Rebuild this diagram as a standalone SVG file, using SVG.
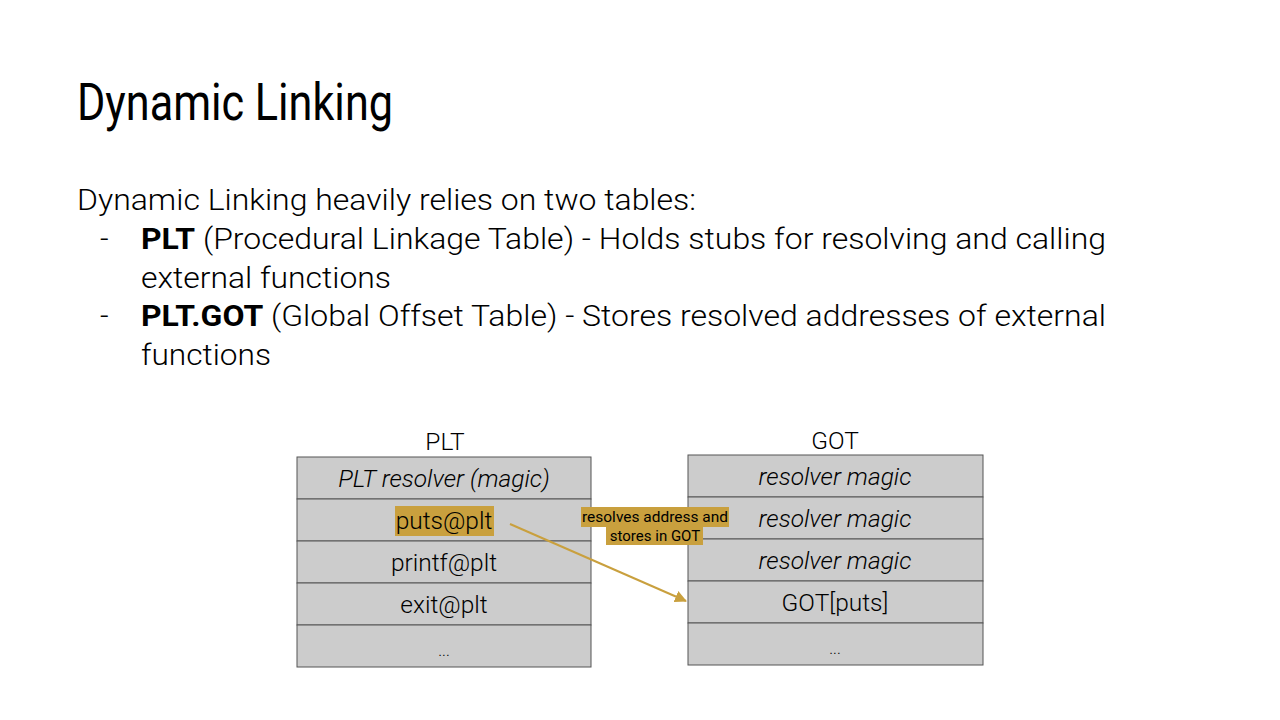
<svg xmlns="http://www.w3.org/2000/svg" width="1280" height="720" viewBox="0 0 1280 720">
<style>
text{font-family:Roboto,"Liberation Sans",sans-serif;fill:#000}
.body{font-size:30px;font-weight:300}
.cell{fill:#cccccc;stroke:#555;stroke-width:1}
.ct{font-size:24.5px;font-weight:300;text-anchor:middle}
.it{font-style:italic}
</style>
<defs><marker id="ah" markerWidth="12" markerHeight="12" refX="11" refY="6" orient="auto" markerUnits="userSpaceOnUse"><path d="M0,0 L12,6 L0,12 z" fill="#c9a03e"/></marker></defs>
<rect width="1280" height="720" fill="#fff"/>
<text x="77" y="120" textLength="316" lengthAdjust="spacingAndGlyphs" style="font-size:52px;font-weight:400">Dynamic Linking</text>
<text class="body" x="77" y="210" textLength="619" lengthAdjust="spacingAndGlyphs">Dynamic Linking heavily relies on two tables:</text>
<text class="body" x="100" y="249">-</text>
<text class="body" x="141" y="249" textLength="965" lengthAdjust="spacingAndGlyphs"><tspan font-weight="700">PLT</tspan> (Procedural Linkage Table) - Holds stubs for resolving and calling</text>
<text class="body" x="141" y="288" textLength="250" lengthAdjust="spacingAndGlyphs">external functions</text>
<text class="body" x="100" y="326">-</text>
<text class="body" x="141" y="326" textLength="965" lengthAdjust="spacingAndGlyphs"><tspan font-weight="700">PLT.GOT</tspan> (Global Offset Table) - Stores resolved addresses of external</text>
<text class="body" x="141" y="365" textLength="130" lengthAdjust="spacingAndGlyphs">functions</text>
<g id="plt">
<text class="ct" x="445" y="450">PLT</text>
<rect class="cell" x="297" y="457" width="294" height="42"/>
<rect class="cell" x="297" y="499" width="294" height="42"/>
<rect class="cell" x="297" y="541" width="294" height="42"/>
<rect class="cell" x="297" y="583" width="294" height="42"/>
<rect class="cell" x="297" y="625" width="294" height="42"/>
<text class="ct it" x="444" y="487">PLT resolver (magic)</text>
<rect x="395" y="506" width="99" height="30" fill="#c9a03e"/>
<text class="ct" x="444" y="529">puts@plt</text>
<text class="ct" x="444" y="571">printf@plt</text>
<text class="ct" x="444" y="613">exit@plt</text>
<text class="ct" x="444" y="656" style="font-size:16px">...</text>
</g>
<g id="got">
<text class="ct" x="835" y="449">GOT</text>
<rect class="cell" x="688" y="455" width="295" height="42"/>
<rect class="cell" x="688" y="497" width="295" height="42"/>
<rect class="cell" x="688" y="539" width="295" height="42"/>
<rect class="cell" x="688" y="581" width="295" height="42"/>
<rect class="cell" x="688" y="623" width="295" height="42"/>
<text class="ct it" x="835" y="485">resolver magic</text>
<text class="ct it" x="835" y="527">resolver magic</text>
<text class="ct it" x="835" y="569">resolver magic</text>
<text class="ct" x="835" y="611">GOT[puts]</text>
<text class="ct" x="835" y="654" style="font-size:16px">...</text>
</g>
<g id="connectors">
<line x1="510" y1="524" x2="686" y2="601" stroke="#c9a03e" stroke-width="2" marker-end="url(#ah)"/>
<rect x="581" y="507" width="148" height="20" fill="#c9a03e"/>
<rect x="606" y="527" width="97" height="18" fill="#c9a03e"/>
<text x="655" y="522" text-anchor="middle" textLength="146" lengthAdjust="spacingAndGlyphs" style="font-size:15px">resolves address and</text>
<text x="655" y="541" text-anchor="middle" style="font-size:15px">stores in GOT</text>
</g>
</svg>
